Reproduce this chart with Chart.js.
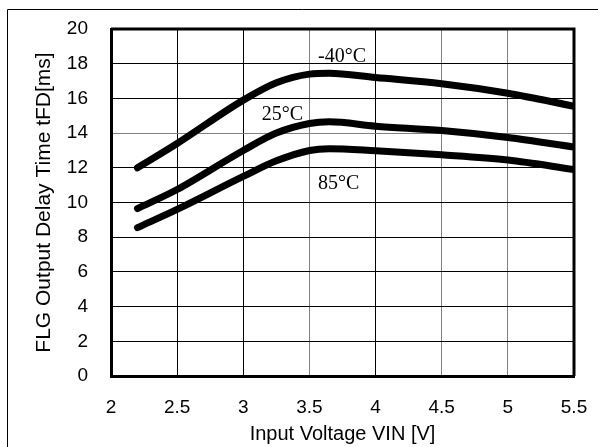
<!DOCTYPE html>
<html>
<head>
<meta charset="utf-8">
<script src="https://cdn.jsdelivr.net/npm/chart.js@4/dist/chart.umd.min.js"></script>
<style>
  body { margin: 0; background: #fff; }
  canvas { display: block; }
</style>
</head>
<body>
<canvas id="delayChart" width="598" height="447"></canvas>
<script>
// values
const vin = [2.2, 2.5, 3.0, 3.25, 3.5, 3.65, 4.0, 4.5, 5.0, 5.5];
const tempNames = ['-40°C', '25°C', '85°C'];
const delayMinus40 = [12.0, 13.4, 15.9, 16.9, 17.4, 17.45, 17.2, 16.85, 16.3, 15.55];
const delay25 = [9.65, 10.75, 13.0, 14.0, 14.55, 14.65, 14.4, 14.15, 13.75, 13.2];
const delay85 = [8.55, 9.6, 11.5, 12.4, 13.0, 13.1, 12.98, 12.75, 12.45, 11.9];
// where the temperature labels sit, in data units [vin, ms]
const labelAt = [[3.565, 18.1], [3.14, 14.75], [3.565, 10.78]];

const grayX = [3.5, 4.5, 5];
const grayY = [14];

function toPoints(ys) {
    return vin.map((v, i) => ({ x: v, y: ys[i] }));
}

function curve(ys) {
    return {
        data: toPoints(ys),
        borderColor: '#000',
        borderWidth: 7,
        pointRadius: 0,
        borderCapStyle: 'round',
        borderJoinStyle: 'round',
        cubicInterpolationMode: 'monotone',
        fill: false
    };
}

const framePlugin = {
    id: 'frame',
    beforeDraw(chart) {
        const c = chart.ctx;
        c.save();
        c.strokeStyle = '#000';
        c.lineWidth = 1;
        c.beginPath();
        c.moveTo(7.5, 447);
        c.lineTo(7.5, 9.5);
        c.lineTo(598, 9.5);
        c.stroke();
        c.restore();
    },
    afterDatasetsDraw(chart) {
        const c = chart.ctx;
        const a = chart.chartArea;
        const sx = chart.scales.x, sy = chart.scales.y;
        c.save();
        c.strokeStyle = '#000';
        c.lineWidth = 3;
        c.beginPath();
        c.moveTo(a.left, a.top);
        c.lineTo(a.right, a.top);
        c.lineTo(a.right, a.bottom);
        c.stroke();
        c.fillStyle = '#000';
        c.font = '20px "Liberation Serif", "Times New Roman", serif';
        c.textBaseline = 'alphabetic';
        tempNames.forEach((name, i) => {
            c.fillText(name, sx.getPixelForValue(labelAt[i][0]), sy.getPixelForValue(labelAt[i][1]));
        });
        c.restore();
    }
};

const ctx = document.getElementById('delayChart').getContext('2d');

const delayChart = new Chart(ctx, {
    type: 'line',
    data: {
        datasets: [curve(delayMinus40), curve(delay25), curve(delay85)]
    },
    options: {
        responsive: false,
        animation: false,
        layout: { padding: { left: 0, right: 24, top: 29, bottom: 0 } },
        plugins: {
            legend: { display: false },
            tooltip: { enabled: false }
        },
        scales: {
            x: {
                type: 'linear',
                min: 2,
                max: 5.5,
                ticks: {
                    stepSize: 0.5,
                    color: '#000',
                    padding: 20,
                    font: { family: '"Liberation Sans", Arial, sans-serif', size: 19 },
                    callback: (v) => String(v)
                },
                grid: {
                    drawTicks: false,
                    lineWidth: 1,
                    color: (c) => grayX.includes(c.tick && c.tick.value) ? '#808080' : '#000'
                },
                border: { color: '#000', width: 3 },
                title: {
                    display: true,
                    text: 'Input Voltage VIN [V]',
                    color: '#000',
                    padding: { top: 0, bottom: 1 },
                    font: { family: '"Liberation Sans", Arial, sans-serif', size: 20 }
                },
                afterFit(scale) {
                    scale.height = 71;
                    scale.paddingLeft = 0;
                    scale.paddingRight = 0;
                }
            },
            y: {
                min: 0,
                max: 20,
                ticks: {
                    stepSize: 2,
                    color: '#000',
                    padding: 23,
                    font: { family: '"Liberation Sans", Arial, sans-serif', size: 19 }
                },
                grid: {
                    drawTicks: false,
                    lineWidth: 1,
                    color: (c) => grayY.includes(c.tick && c.tick.value) ? '#808080' : '#000'
                },
                border: { color: '#000', width: 3 },
                title: {
                    display: true,
                    text: 'FLG Output Delay Time tFD[ms]',
                    color: '#000',
                    padding: { top: 32, bottom: 0 },
                    font: { family: '"Liberation Sans", Arial, sans-serif', size: 21 }
                },
                afterFit(scale) {
                    scale.width = 111;
                    scale.paddingTop = 0;
                    scale.paddingBottom = 0;
                }
            }
        }
    },
    plugins: [framePlugin]
});
</script>
</body>
</html>
